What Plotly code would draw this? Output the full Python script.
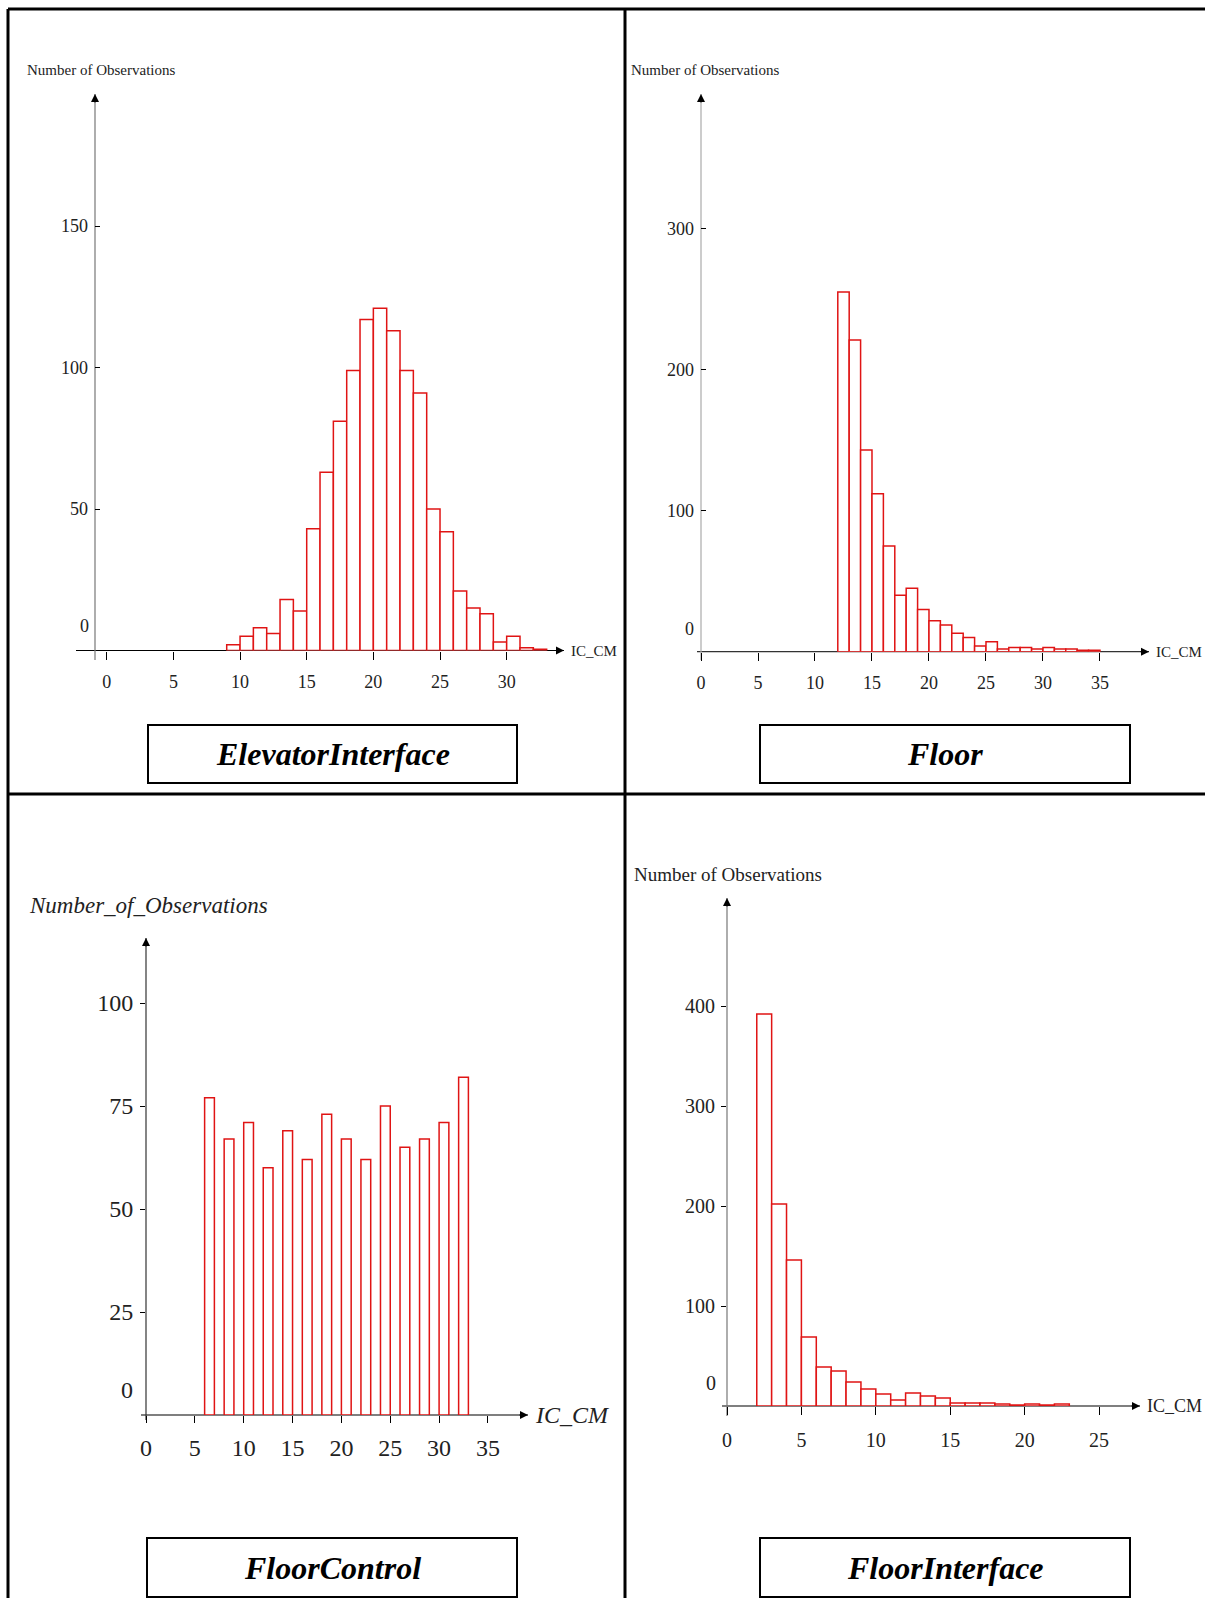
import plotly.graph_objects as go

W, H = 1205, 1598

# ---- data: histogram bins (left edge of each bin) and counts ----
elev_edges = [9, 10, 11, 12, 13, 14, 15, 16, 17, 18, 19, 20, 21, 22, 23, 24, 25, 26, 27, 28, 29, 30, 31, 32]
elev_counts = [2, 5, 8, 6, 18, 14, 43, 63, 81, 99, 117, 121, 113, 99, 91, 50, 42, 21, 15, 13, 3, 5, 1, 0.4]

floor_edges = [12, 13, 14, 15, 16, 17, 18, 19, 20, 21, 22, 23, 24, 25, 26, 27, 28, 29, 30, 31, 32, 33, 34]
floor_counts = [255, 221, 143, 112, 75, 40, 45, 30, 22, 19, 13, 10, 4, 7, 2, 3, 3, 2, 3, 2, 2, 1, 1]

fc_edges = [6, 8, 10, 12, 14, 16, 18, 20, 22, 24, 26, 28, 30, 32]
fc_counts = [77, 67, 71, 60, 69, 62, 73, 67, 62, 75, 65, 67, 71, 82]

fi_edges = [2, 3, 4, 5, 6, 7, 8, 9, 10, 11, 12, 13, 14, 15, 16, 17, 18, 19, 20, 21, 22]
fi_counts = [392, 202, 146, 69, 39, 35, 24, 17, 12, 6, 13, 10, 8, 3, 3, 3, 2, 1, 2, 1, 2]

elev_xticks = [0, 5, 10, 15, 20, 25, 30]
floor_xticks = [0, 5, 10, 15, 20, 25, 30, 35]
fc_xticks = [0, 5, 10, 15, 20, 25, 30, 35]
fi_xticks = [0, 5, 10, 15, 20, 25]

elev_yticks = [50, 100, 150]
floor_yticks = [100, 200, 300]
fc_yticks = [25, 50, 75, 100]
fi_yticks = [100, 200, 300, 400]

RED = "#e01414"
SERIF = "Liberation Serif, Times New Roman, serif"


def xp(v):
    return v / W


def yp(v):
    return 1 - v / H


# ---- panel geometry (pixels) and typography ----
panels = [
    dict(name="ElevatorInterface", edges=elev_edges, counts=elev_counts,
         xticks=elev_xticks, yticks=elev_yticks,
         ox=95, oy=650.5, x_end=564, y_top=94, x_ext=76, y_ext=660,
         xrange=[-0.88, 34.3], yrange=[0, 196.7],
         ycol="#777777", xcol="#000000",
         ytitle="Number of Observations", ytitle_pos=(25, 70), ytitle_size=15, ytitle_italic=False,
         xlabel="IC_CM", xlabel_size=15, xlabel_italic=False,
         tick_size=18, xticklen=8, xstandoff=7, yticks_dir="inside", ystandoff=6,
         zero_pos=(84, 626), box=(148, 725, 517, 783)),
    dict(name="Floor", edges=floor_edges, counts=floor_counts,
         xticks=floor_xticks, yticks=floor_yticks,
         ox=701, oy=651.7, x_end=1149, y_top=94, x_ext=697, y_ext=660,
         xrange=[0, 39.3], yrange=[0, 395.5],
         ycol="#aaaaaa", xcol="#333333",
         ytitle="Number of Observations", ytitle_pos=(629, 70), ytitle_size=15, ytitle_italic=False,
         xlabel="IC_CM", xlabel_size=15, xlabel_italic=False,
         tick_size=18, xticklen=8, xstandoff=7, yticks_dir="inside", ystandoff=6,
         zero_pos=(689, 629), box=(760, 725, 1130, 783)),
    dict(name="FloorControl", edges=fc_edges, counts=fc_counts,
         xticks=fc_xticks, yticks=fc_yticks,
         ox=146, oy=1415, x_end=528, y_top=938, x_ext=141, y_ext=1420,
         xrange=[0, 39.1], yrange=[0, 115.8],
         ycol="#333333", xcol="#000000",
         ytitle="Number_of_Observations", ytitle_pos=(27, 905), ytitle_size=23, ytitle_italic=True,
         xlabel="IC_CM", xlabel_size=24, xlabel_italic=True,
         tick_size=24, xticklen=7, xstandoff=4, yticks_dir="outside", ystandoff=2,
         zero_pos=(127, 1390), box=(147, 1538, 517, 1597)),
    dict(name="FloorInterface", edges=fi_edges, counts=fi_counts,
         xticks=fi_xticks, yticks=fi_yticks,
         ox=727, oy=1406, x_end=1140, y_top=898, x_ext=722, y_ext=1416,
         xrange=[0, 27.75], yrange=[0, 508],
         ycol="#777777", xcol="#000000",
         ytitle="Number of Observations", ytitle_pos=(632, 874), ytitle_size=19, ytitle_italic=False,
         xlabel="IC_CM", xlabel_size=18, xlabel_italic=False,
         tick_size=20, xticklen=8, xstandoff=8, yticks_dir="outside", ystandoff=2,
         zero_pos=(711, 1383), box=(760, 1538, 1130, 1597)),
]

fig = go.Figure()
layout = dict(
    width=W, height=H,
    margin=dict(l=0, r=0, t=0, b=0),
    paper_bgcolor="white", plot_bgcolor="rgba(0,0,0,0)",
    showlegend=False, template="none",
    font=dict(family=SERIF, color="#222222"),
)
shapes, annotations = [], []

for i, p in enumerate(panels, start=1):
    xa = "x" if i == 1 else f"x{i}"
    ya = "y" if i == 1 else f"y{i}"
    xkey = "xaxis" if i == 1 else f"xaxis{i}"
    ykey = "yaxis" if i == 1 else f"yaxis{i}"

    fig.add_trace(go.Bar(
        x=p["edges"], y=p["counts"], width=1, offset=0,
        xaxis=xa, yaxis=ya,
        marker=dict(color="white", line=dict(color=RED, width=1.5)),
        hoverinfo="x+y",
    ))

    tick_font = dict(family=SERIF, size=p["tick_size"], color="#222222")
    layout[xkey] = dict(
        domain=[xp(p["ox"]), xp(p["x_end"])], anchor=ya, range=p["xrange"],
        tickmode="array", tickvals=p["xticks"], ticktext=[str(t) for t in p["xticks"]],
        ticks="outside", ticklen=p["xticklen"], tickwidth=1, tickcolor="#000000",
        showline=False, showgrid=False, zeroline=False, automargin=False,
        tickfont=tick_font, ticklabelstandoff=p["xstandoff"],
    )
    layout[ykey] = dict(
        domain=[yp(p["oy"]), yp(p["y_top"])], anchor=xa, range=p["yrange"],
        tickmode="array", tickvals=p["yticks"], ticktext=[str(t) for t in p["yticks"]],
        ticks=p["yticks_dir"], ticklen=5, tickwidth=1, tickcolor="#000000",
        showline=False, showgrid=False, zeroline=False, automargin=False,
        tickfont=tick_font, ticklabelstandoff=p["ystandoff"],
    )

    # axis lines (beneath the bars) with arrow heads at the ends
    shapes.append(dict(type="line", xref="paper", yref="paper", layer="below",
                       x0=xp(p["x_ext"]), x1=xp(p["x_end"]), y0=yp(p["oy"]), y1=yp(p["oy"]),
                       line=dict(color=p["xcol"], width=1.2)))
    shapes.append(dict(type="line", xref="paper", yref="paper", layer="below",
                       x0=xp(p["ox"]), x1=xp(p["ox"]), y0=yp(p["y_ext"]), y1=yp(p["y_top"]),
                       line=dict(color=p["ycol"], width=1.2)))
    annotations.append(dict(xref="paper", yref="paper", x=xp(p["x_end"]), y=yp(p["oy"]),
                            ax=-10, ay=0, text="", showarrow=True, arrowhead=2,
                            arrowsize=1.6, arrowwidth=1, arrowcolor="#000000", standoff=0))
    annotations.append(dict(xref="paper", yref="paper", x=xp(p["ox"]), y=yp(p["y_top"]),
                            ax=0, ay=10, text="", showarrow=True, arrowhead=2,
                            arrowsize=1.6, arrowwidth=1, arrowcolor="#000000", standoff=0))

    # axis captions
    yt = f"<i>{p['ytitle']}</i>" if p["ytitle_italic"] else p["ytitle"]
    annotations.append(dict(xref="paper", yref="paper", x=xp(p["ytitle_pos"][0]), y=yp(p["ytitle_pos"][1]),
                            xanchor="left", yanchor="middle", text=yt, showarrow=False,
                            font=dict(family=SERIF, size=p["ytitle_size"], color="#222222")))
    xl = f"<i>{p['xlabel']}</i>" if p["xlabel_italic"] else p["xlabel"]
    annotations.append(dict(xref="paper", yref="paper", x=xp(p["x_end"] + 5), y=yp(p["oy"]),
                            xanchor="left", yanchor="middle", text=xl, showarrow=False,
                            font=dict(family=SERIF, size=p["xlabel_size"], color="#222222")))
    # origin label for the count axis
    annotations.append(dict(xref="paper", yref="paper", x=xp(p["zero_pos"][0]), y=yp(p["zero_pos"][1]),
                            xanchor="center", yanchor="middle", text="0", showarrow=False,
                            font=dict(family=SERIF, size=p["tick_size"], color="#222222")))

    # framed component name
    bx0, by0, bx1, by1 = p["box"]
    shapes.append(dict(type="rect", xref="paper", yref="paper",
                       x0=xp(bx0), x1=xp(bx1), y0=yp(by1), y1=yp(by0),
                       line=dict(color="#000000", width=2), fillcolor="rgba(0,0,0,0)"))
    annotations.append(dict(xref="paper", yref="paper", x=xp((bx0 + bx1) / 2), y=yp((by0 + by1) / 2),
                            xanchor="center", yanchor="middle", showarrow=False,
                            text=f"<b><i>{p['name']}</i></b>",
                            font=dict(family=SERIF, size=32, color="#000000")))

# table grid framing the four histograms
grid = [
    (8, 9, W, 9),
    (8, 9, 8, H),
    (625, 9, 625, H),
    (8, 794, W, 794),
]
for x0, y0, x1, y1 in grid:
    shapes.append(dict(type="line", xref="paper", yref="paper",
                       x0=xp(x0), x1=xp(x1), y0=yp(y0), y1=yp(y1),
                       line=dict(color="#000000", width=3)))

layout["shapes"] = shapes
layout["annotations"] = annotations
fig.update_layout(**layout)
fig.write_html("out.html")
